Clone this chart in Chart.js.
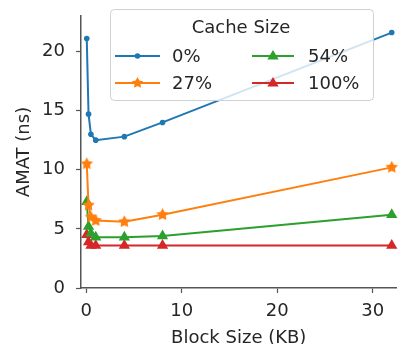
<!DOCTYPE html>
<html>
<head>
<meta charset="utf-8">
<script src="https://cdn.jsdelivr.net/npm/chart.js@4.4.1/dist/chart.umd.min.js"></script>
<style>
  html, body { margin: 0; padding: 0; background: #ffffff; }
  #wrap { width: 403px; height: 344px; }
</style>
</head>
<body>
<div id="wrap"><canvas id="c" width="403" height="344"></canvas></div>
<script>
// Block sizes (KB) and average memory access time (ns) for each cache size
const blockSizesKB = [0.0625, 0.25, 0.5, 1, 4, 8, 32];
const cacheLabels = ['0%', '27%', '54%', '100%'];
const amat0   = [21.1, 14.7, 13.0, 12.5, 12.8, 14.0, 21.6];
const amat27  = [10.5, 7.0, 6.0, 5.7, 5.6, 6.2, 10.2];
const amat54  = [7.3, 5.2, 4.6, 4.3, 4.3, 4.4, 6.2];
const amat100 = [4.5, 3.9, 3.6, 3.6, 3.6, 3.6, 3.6];
const xTicks = [0, 10, 20, 30];
const yTicks = [0, 5, 10, 15, 20];

const FONT = 'DejaVu Sans';
const TEXT = '#262626';
const AXIS = '#555555';
const COLORS = ['#1f77b4', '#ff7f0e', '#2ca02c', '#d62728'];

function starCanvas(color, r) {
  const s = Math.ceil(r * 2 + 2);
  const cv = document.createElement('canvas');
  cv.width = s; cv.height = s;
  const g = cv.getContext('2d');
  drawStar(g, s / 2, s / 2, r, color);
  return cv;
}
function drawStar(g, cx, cy, r, color) {
  g.save();
  g.beginPath();
  for (let i = 0; i < 10; i++) {
    const rad = i % 2 === 0 ? r : r * 0.52;
    const a = -Math.PI / 2 + i * Math.PI / 5;
    const px = cx + rad * Math.cos(a), py = cy + rad * Math.sin(a);
    if (i === 0) g.moveTo(px, py); else g.lineTo(px, py);
  }
  g.closePath();
  g.fillStyle = color;
  g.fill();
  g.restore();
}
function drawTriangle(g, cx, cy, r, color) {
  g.save();
  g.beginPath();
  g.moveTo(cx, cy - r);
  g.lineTo(cx + r * 0.95, cy + r * 0.6);
  g.lineTo(cx - r * 0.95, cy + r * 0.6);
  g.closePath();
  g.fillStyle = color;
  g.fill();
  g.restore();
}

const starImg = starCanvas(COLORS[1], 6.5);
const series = [amat0, amat27, amat54, amat100];
const markers = [
  { style: 'circle', radius: 2.8 },
  { style: starImg, radius: 6.5 },
  { style: 'triangle', radius: 6.5 },
  { style: 'triangle', radius: 6.5 }
];

const datasets = series.map((vals, i) => ({
  label: cacheLabels[i],
  data: blockSizesKB.map((x, j) => ({ x: x, y: vals[j] })),
  borderColor: COLORS[i],
  backgroundColor: COLORS[i],
  borderWidth: 2,
  pointStyle: markers[i].style,
  pointRadius: markers[i].radius,
  pointBorderWidth: 0,
  pointHoverRadius: markers[i].radius,
  clip: false,
  tension: 0
}));

// Boxed two-column legend with a title, drawn over the lines
const cacheLegend = {
  id: 'cacheLegend',
  afterDatasetsDraw(chart) {
    const g = chart.ctx;
    const box = { x: 110.5, y: 9.5, w: 263, h: 91 };
    g.save();
    g.beginPath();
    g.roundRect(box.x, box.y, box.w, box.h, 4);
    g.fillStyle = 'rgba(255,255,255,0.8)';
    g.fill();
    g.strokeStyle = '#d0d0d0';
    g.lineWidth = 1;
    g.stroke();

    g.fillStyle = TEXT;
    g.font = '18px "' + FONT + '"';
    g.textAlign = 'center';
    g.textBaseline = 'middle';
    g.fillText('Cache Size', 241, 28);

    const slots = [
      { lx0: 115, lx1: 160, tx: 172, y: 56 },
      { lx0: 115, lx1: 160, tx: 172, y: 83 },
      { lx0: 252, lx1: 294, tx: 308, y: 56 },
      { lx0: 252, lx1: 294, tx: 308, y: 83 }
    ];
    chart.data.datasets.forEach((ds, i) => {
      const s = slots[i];
      g.strokeStyle = ds.borderColor;
      g.lineWidth = 2;
      g.beginPath();
      g.moveTo(s.lx0, s.y);
      g.lineTo(s.lx1, s.y);
      g.stroke();
      const mx = (s.lx0 + s.lx1) / 2;
      if (i === 0) {
        g.beginPath();
        g.arc(mx, s.y, 2.8, 0, Math.PI * 2);
        g.fillStyle = ds.borderColor;
        g.fill();
      } else if (i === 1) {
        drawStar(g, mx, s.y, 6, ds.borderColor);
      } else {
        drawTriangle(g, mx, s.y, 6, ds.borderColor);
      }
      g.fillStyle = TEXT;
      g.textAlign = 'left';
      g.fillText(ds.label, s.tx, s.y + 1);
    });
    g.restore();
  }
};

new Chart(document.getElementById('c'), {
  type: 'line',
  data: { datasets: datasets },
  plugins: [cacheLegend],
  options: {
    responsive: false,
    animation: false,
    devicePixelRatio: 1,
    layout: { padding: { top: 16, right: 0, bottom: 0, left: 0 } },
    plugins: { legend: { display: false }, tooltip: { enabled: false } },
    scales: {
      x: {
        type: 'linear',
        min: -0.54,
        max: 32.5,
        afterFit(scale) {
          scale.height = 56;
          scale.paddingLeft = 0;
          scale.paddingRight = 0;
        },
        afterBuildTicks(scale) { scale.ticks = xTicks.map(v => ({ value: v })); },
        grid: { drawOnChartArea: false, drawTicks: true, tickLength: 5, color: AXIS, tickWidth: 1.2 },
        border: { display: true, color: AXIS, width: 1.5 },
        ticks: { color: TEXT, font: { family: FONT, size: 18 }, padding: 8, maxRotation: 0 },
        title: { display: true, text: 'Block Size (KB)', color: TEXT, font: { family: FONT, size: 18 }, padding: { top: 0, bottom: -5 } }
      },
      y: {
        min: 0,
        max: 23,
        afterFit(scale) {
          scale.width = 81;
          scale.paddingTop = 0;
          scale.paddingBottom = 0;
        },
        afterBuildTicks(scale) { scale.ticks = yTicks.map(v => ({ value: v })); },
        grid: { drawOnChartArea: false, drawTicks: true, tickLength: 5, color: AXIS, tickWidth: 1.2 },
        border: { display: true, color: AXIS, width: 1.5 },
        ticks: { color: TEXT, font: { family: FONT, size: 18 }, padding: 11 },
        title: { display: true, text: 'AMAT (ns)', color: TEXT, font: { family: FONT, size: 18 }, padding: { top: 14, bottom: 0 } }
      }
    }
  }
});
</script>
</body>
</html>
